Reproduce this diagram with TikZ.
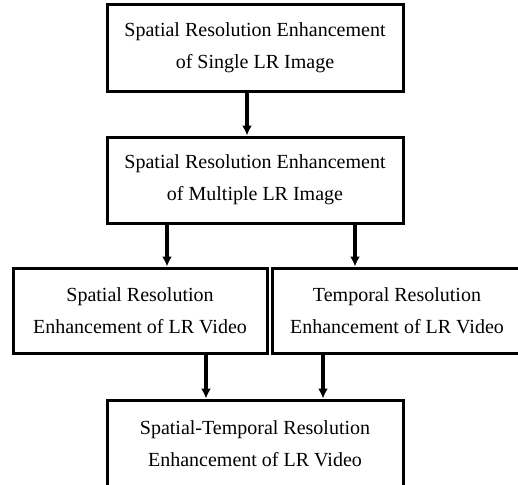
\documentclass[tikz,border=0pt]{standalone}
\usepackage{fontspec}
\setmainfont{Liberation Serif}
\usetikzlibrary{arrows.meta}

\tikzset{
  stage/.style={draw, line width=1.5pt, align=center, inner sep=0pt,
    font=\fontsize{10}{16}\selectfont},
  flow/.style={-{Latex[length=5pt,width=5pt]}, line width=2pt}
}

\begin{document}
\begin{tikzpicture}[x=0.5pt,y=-0.5pt]
  \useasboundingbox (0,0) rectangle (518,484);

  \node[stage, minimum width=148pt, minimum height=43.5pt] (single) at (255,48)
     {Spatial Resolution Enhancement\\of Single LR Image};
  \node[stage, minimum width=148pt, minimum height=43pt] (multi) at (255,180)
     {Spatial Resolution Enhancement\\of Multiple LR Image};
  \node[stage, minimum width=127pt, minimum height=42.5pt] (spatial) at (140,310.5)
     {Spatial Resolution\\Enhancement of LR Video};
  \node[stage, minimum width=125pt, minimum height=42.5pt] (temporal) at (397,310.5)
     {Temporal Resolution\\Enhancement of LR Video};
  \node[stage, minimum width=148pt, minimum height=43.5pt] (joint) at (255,443.5)
     {Spatial-Temporal Resolution\\Enhancement of LR Video};

  % arrows between the stages
  \draw[flow] (247,0 |- single.south) -- (247,0 |- multi.north);
  \draw[flow] (167,0 |- multi.south) -- (167,0 |- spatial.north);
  \draw[flow] (355,0 |- multi.south) -- (355,0 |- temporal.north);
  \draw[flow] (206,0 |- spatial.south) -- (206,0 |- joint.north);
  \draw[flow] (323,0 |- temporal.south) -- (323,0 |- joint.north);
\end{tikzpicture}
\end{document}
